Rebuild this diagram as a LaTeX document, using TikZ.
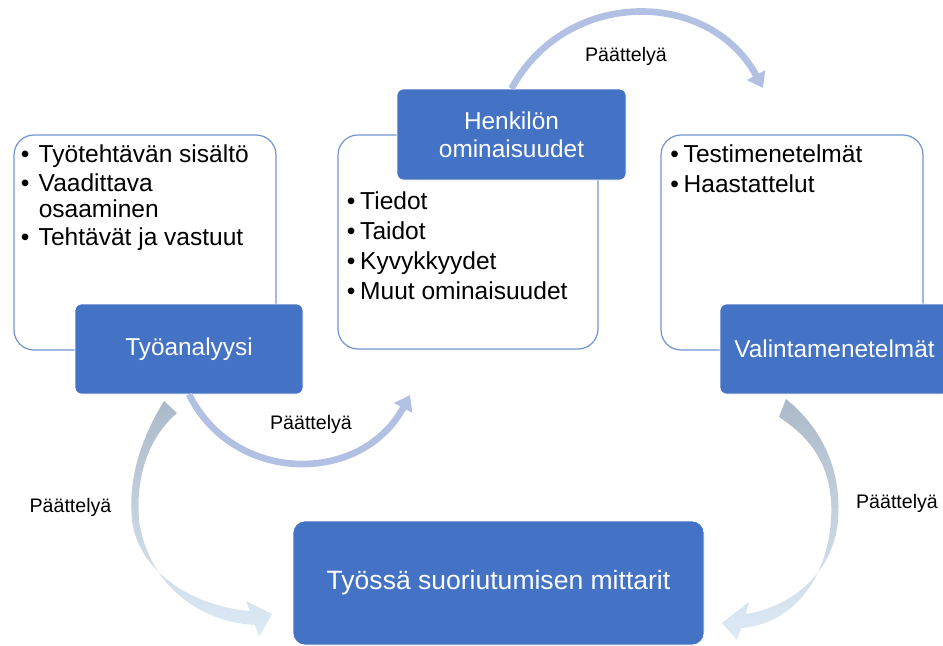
\documentclass[tikz,border=0pt]{standalone}
\usepackage{fontspec}
\setmainfont{Liberation Sans}
\usetikzlibrary{arrows.meta}

\definecolor{boxblue}{RGB}{68,114,196}
\definecolor{edgeblue}{RGB}{113,148,210}
\definecolor{arcblue}{RGB}{178,193,227}
\definecolor{arcgrey}{RGB}{172,185,200}
\definecolor{arcpale}{RGB}{222,235,247}

\newcommand{\bul}[1]{\makebox[#1][l]{•}}

\tikzset{
  listframe/.style={draw=edgeblue, line width=0.9pt, rounded corners=15pt, fill=white},
  headbox/.style={fill=boxblue, draw=white, line width=0.5pt, rounded corners=5pt, text=white,
    align=center, inner sep=0pt, font=\fontsize{18.3}{21}\selectfont},
  itemlist/.style={anchor=north west, inner sep=0pt, align=left},
  reason/.style={draw=arcblue, line width=5pt, -{Triangle[width=15pt,length=11pt]}},
  reasonlabel/.style={inner sep=0pt, font=\fontsize{14.7}{17}\selectfont},
  crescent/.style={top color=arcgrey, bottom color=arcpale}
}

\begin{document}
\begin{tikzpicture}[x=0.75pt,y=0.75pt,yscale=-1,xscale=1]
\useasboundingbox (0,0) rectangle (943,646);
\clip (0,0) rectangle (943,646);

%Shape: Rounded Rectangle
\draw [listframe] (14,135) rectangle (276,350);
%Shape: Rounded Rectangle
\draw [listframe] (338,135) rectangle (598,349);
%Shape: Rounded Rectangle
\draw [listframe] (661,135) rectangle (923,350);

% Text Node
\node [itemlist, font=\fontsize{18.4}{21.4}\selectfont] (tyolist) at (20.5,144.5)
  {\bul{13.5pt}Työtehtävän sisältö\\
   \bul{13.5pt}Vaadittava\\[-1.9pt]
   \hspace*{13.5pt}osaaminen\\
   \bul{13.5pt}Tehtävät ja vastuut};
% Text Node
\node [itemlist, font=\fontsize{18.4}{22.5}\selectfont] (henklist) at (346.5,191.5)
  {\bul{10.1pt}Tiedot\\
   \bul{10.1pt}Taidot\\
   \bul{10.1pt}Kyvykkyydet\\
   \bul{10.1pt}Muut ominaisuudet};
% Text Node
\node [itemlist, font=\fontsize{18.4}{22.5}\selectfont] (vallist) at (670,144.2)
  {\bul{10.1pt}Testimenetelmät\\
   \bul{10.1pt}Haastattelut};

%Shape: Rectangle
\node [headbox, minimum width=171pt, minimum height=67.5pt] (tyo) at (189,349) {Työanalyysi};
%Shape: Rectangle
\node [headbox, minimum width=171.75pt, minimum height=68.25pt] (henk) at (511.5,134.5) {Henkilön\\ominaisuudet};
%Shape: Rectangle
\node [headbox, minimum width=171.75pt, minimum height=67.5pt] (val) at (834.5,349) {Valintamenetelmät};
%Shape: Rectangle
\node [headbox, rounded corners=9pt, minimum width=308.25pt, minimum height=93pt,
  font=\fontsize{19.9}{23}\selectfont] (mitt) at (498.5,583) {Työssä suoriutumisen mittarit};

\coordinate (topend) at (763,88);
\coordinate (midend) at (410,395);

%Curve Lines
\draw [reason] (henk.north) .. controls (566,-12) and (709,-12) .. (topend);
%Curve Lines
\draw [reason] (tyo.south) .. controls (234,485) and (362,485) .. (midend);

%Shape: Curved Arrow
\shade [crescent] (164,401) .. controls (140,440) and (128,480) .. (132,520)
  .. controls (138,570) and (190,606) .. (250,611) -- (246,601) -- (272,614)
  -- (259,637) -- (255,625) .. controls (195,622) and (147,580) .. (139,520)
  .. controls (136,480) and (146,440) .. (177,413) -- cycle;
%Shape: Curved Arrow
\shade [crescent] (786,399) .. controls (822,428) and (842,470) .. (838,520)
  .. controls (834,570) and (795,606) .. (746,614) -- (749,602) -- (722,623)
  -- (737,640) -- (741,628) .. controls (792,624) and (827,580) .. (831,520)
  .. controls (834,470) and (814,440) .. (779,417) -- cycle;

% Text Node
\node [reasonlabel] (toplab) at (626,56) {Päättelyä};
% Text Node
\node [reasonlabel] (midlab) at (311,424) {Päättelyä};
% Text Node
\node [reasonlabel] (leftlab) at (70.5,507) {Päättelyä};
% Text Node
\node [reasonlabel] (rightlab) at (897,503) {Päättelyä};

\end{tikzpicture}
\end{document}
